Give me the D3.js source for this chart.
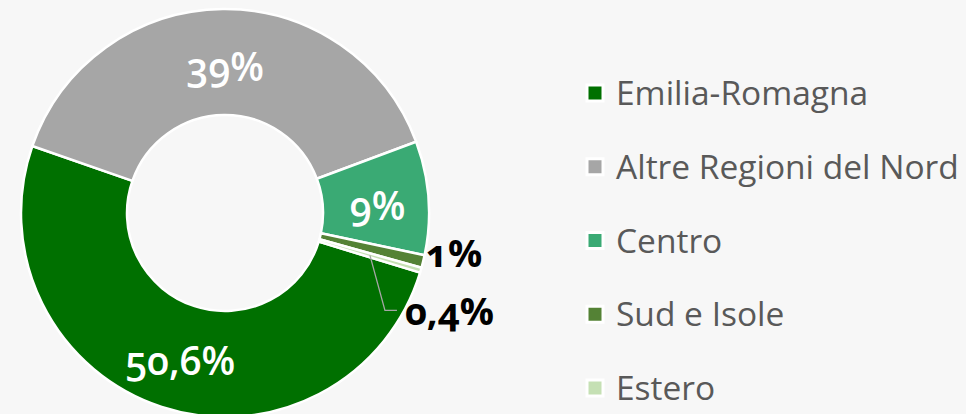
<!DOCTYPE html>
<html><head><meta charset="utf-8">
<script src="https://cdn.jsdelivr.net/npm/d3@7"></script>
<style>
html,body{margin:0;padding:0;background:#f7f7f7;overflow:hidden}
text{font-family:"Open Sans",sans-serif;font-feature-settings:"onum" 1;font-variant-numeric:oldstyle-nums}
</style></head><body>
<svg id="c" width="966" height="414"></svg>
<script>
const categories=["Emilia-Romagna","Altre Regioni del Nord","Centro","Sud e Isole","Estero"];
const values=[50.6,39,9,1,0.4];
const labels=["50,6%","39%","9%","1%","0,4%"];
const colors=["#007000","#a6a6a6","#3aaa74","#548235","#c5e0b4"];

const svg=d3.select("#c");
const cx=225, cy=213, R=204, r=98;
const deg=Math.PI/180;
const start=107*deg;
const pie=d3.pie().sort(null).value(d=>d).startAngle(start).endAngle(start+2*Math.PI);
const arcs=pie(values);
const arc=d3.arc().innerRadius(r).outerRadius(R);
const g=svg.append("g").attr("transform",`translate(${cx},${cy})`);
g.selectAll("path").data(arcs).join("path")
 .attr("d",arc).attr("fill",(d,i)=>colors[i])
 .attr("stroke","#ffffff").attr("stroke-width",2.5).attr("stroke-linejoin","round");

// inner labels
arcs.slice(0,3).forEach((d,i)=>{
  const [x,y]=arc.centroid(d);
  g.append("text").attr("x",x+2).attr("y",y+3)
   .attr("text-anchor","middle").attr("dominant-baseline","central")
   .attr("fill","#ffffff").attr("font-size",39).attr("font-weight",600)
   .text(labels[i]);
});
// Sud e Isole label (outside)
{
  const d=arcs[3]; const a=(d.startAngle+d.endAngle)/2;
  const x=(R+2)*Math.sin(a), y=-(R+2)*Math.cos(a);
  g.append("text").attr("x",x+1).attr("y",y-10)
   .attr("text-anchor","start").attr("dominant-baseline","central")
   .attr("fill","#000000").attr("font-size",38).attr("font-weight",700)
   .text(labels[3]);
}
// Estero label with leader
{
  const d=arcs[4]; const [x0,y0]=arc.centroid(d);
  const x1=x0+15, y1=y0+55, x2=x1+12;
  g.append("polyline").attr("points",`${x0},${y0} ${x1},${y1} ${x2},${y1}`)
   .attr("fill","none").attr("stroke","#a6a6a6").attr("stroke-width",1.3);
  g.append("text").attr("x",x2+8).attr("y",y1)
   .attr("text-anchor","start").attr("dominant-baseline","central")
   .attr("fill","#000000").attr("font-size",38).attr("font-weight",700)
   .text(labels[4]);
}

// legend
const leg=svg.append("g").attr("transform","translate(587,93)");
const rows=leg.selectAll("g").data(categories).join("g")
 .attr("transform",(d,i)=>`translate(0,${i*73.75})`);
rows.append("rect").attr("x",0).attr("y",-8).attr("width",16).attr("height",16)
 .attr("fill",(d,i)=>colors[i]).attr("stroke","#ffffff").attr("stroke-width",3);
rows.append("text").attr("x",29).attr("y",12).attr("fill","#595959")
 .attr("font-size",33.5).text(d=>d);
</script>
</body></html>
